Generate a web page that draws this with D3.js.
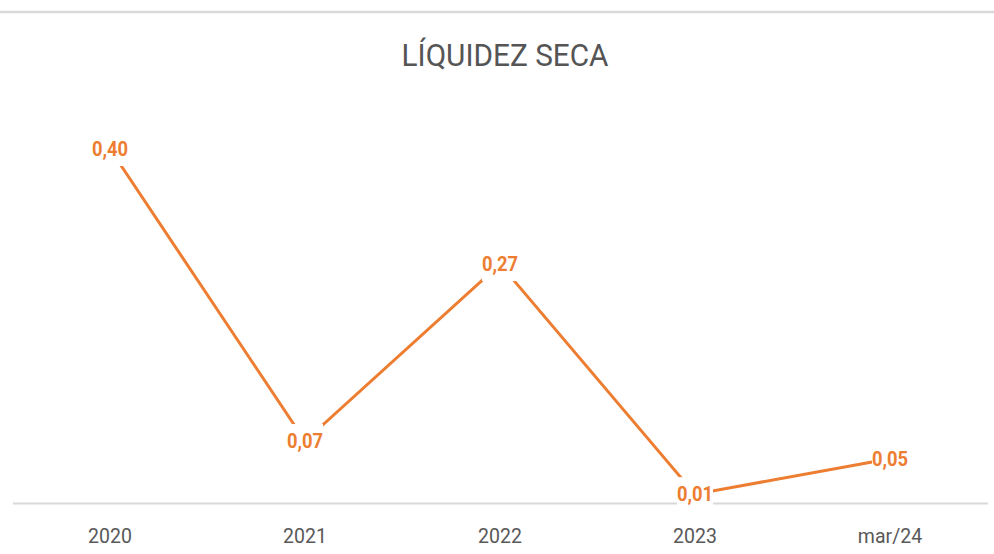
<!DOCTYPE html>
<html>
<head>
<meta charset="utf-8">
<script src="https://cdn.jsdelivr.net/npm/d3@7"></script>
<style>
  html, body { margin: 0; padding: 0; background: #fff; }
  svg { display: block; font-family: Roboto, "Noto Sans", sans-serif; }
</style>
</head>
<body>
<div id="chart"></div>
<script>
// data
const categories = ['2020', '2021', '2022', '2023', 'mar/24'];
const values = [0.40, 0.07, 0.27, 0.01, 0.05];
const title = 'LÍQUIDEZ SECA';

const width = 994;
const height = 554;
const margin = { top: 149, right: 6.5, bottom: 51, left: 12.5 };

const orange = '#ed7d31';
const ptBr = d3.formatLocale({ decimal: ',', thousands: '.', grouping: [3], currency: ['R$', ''] });
const fmt = ptBr.format('.2f');

const svg = d3.select('#chart').append('svg')
    .attr('width', width)
    .attr('height', height);

// frame line on top
svg.append('line')
    .attr('x1', 0)
    .attr('x2', width)
    .attr('y1', 12)
    .attr('y2', 12)
    .attr('stroke', '#d9d9d9')
    .attr('stroke-width', 2.5);

svg.append('text')
    .attr('transform', 'translate(505, 66) scale(0.96, 1)')
    .attr('text-anchor', 'middle')
    .attr('font-size', '31px')
    .attr('fill', '#555')
    .text(title);

const xScale = d3.scaleBand()
    .domain(categories)
    .range([margin.left, width - margin.right]);

const yScale = d3.scaleLinear()
    .domain([0, 0.40])
    .range([height - margin.bottom, margin.top]);

const xAxis = d3.axisBottom(xScale)
    .tickSize(0)
    .tickSizeOuter(0)
    .tickPadding(25);

const axisG = svg.append('g')
    .attr('class', 'x axis')
    .attr('transform', `translate(0, ${yScale(0)})`)
    .call(xAxis);

axisG.select('.domain')
    .attr('stroke', '#d9d9d9')
    .attr('stroke-width', 2);

axisG.selectAll('text')
    .attr('font-size', '21px')
    .attr('font-family', 'Roboto, sans-serif')
    .attr('fill', '#595959')
    .attr('transform', 'scale(0.93, 1)');

const cx = d => xScale(d) + xScale.bandwidth() / 2;
const points = categories.map((c, i) => ({ cat: c, value: values[i] }));

const line = d3.line()
    .x(d => cx(d.cat))
    .y(d => yScale(d.value));

svg.append('path')
    .datum(points)
    .attr('fill', 'none')
    .attr('stroke', orange)
    .attr('stroke-width', 3)
    .attr('d', line);

const label = svg.selectAll('.label')
    .data(points)
  .enter().append('g')
    .attr('class', 'label')
    .attr('transform', d => `translate(${cx(d.cat)}, ${yScale(d.value)})`);

label.append('rect')
    .attr('x', -18)
    .attr('y', -17)
    .attr('width', 36)
    .attr('height', 34)
    .attr('fill', '#fff');

label.append('text')
    .attr('text-anchor', 'middle')
    .attr('dy', '0.36em')
    .attr('font-size', '20px')
    .attr('font-weight', 700)
    .attr('fill', orange)
    .attr('transform', 'scale(0.92, 1)')
    .text(d => fmt(d.value));
</script>
</body>
</html>
